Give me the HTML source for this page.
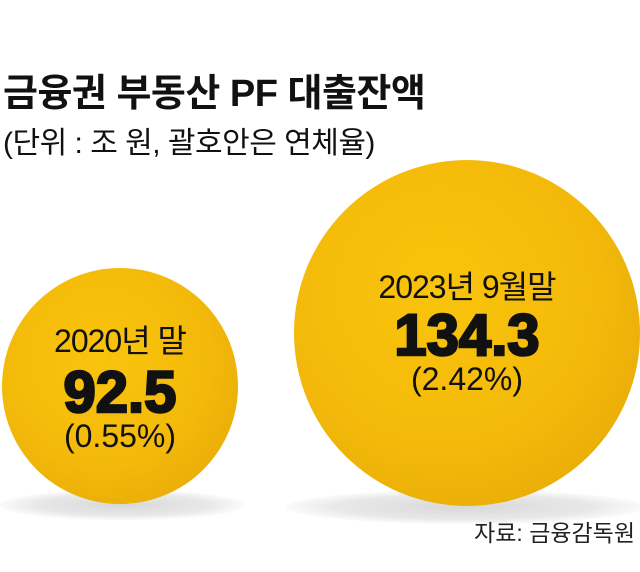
<!DOCTYPE html>
<html><head><meta charset="utf-8"><style>
body{margin:0;width:640px;height:572px;background:#fff;position:relative;overflow:hidden;font-family:"Liberation Sans","Noto Sans CJK KR",sans-serif;color:#111}
.t{position:absolute;white-space:nowrap}
.ball{position:absolute;border-radius:50%;background:radial-gradient(circle at 42% 38%,#f9c40c 0%,#f4ba0a 50%,#eaae08 78%,#d69a06 100%)}
.sh{position:absolute;border-radius:50%;background:radial-gradient(ellipse at center,#d8d8d8 0%,#e8e8e8 50%,rgba(255,255,255,0) 75%)}
.c{position:absolute;text-align:center;line-height:1;white-space:nowrap}
</style></head><body>
<div class="t" style="left:3px;top:62px;font-size:38px;font-weight:bold;letter-spacing:-0.5px">금융권 부동산 PF 대출잔액</div>
<div class="t" style="left:3px;top:118px;font-size:30px;letter-spacing:-0.5px">(단위 : 조 원, 괄호안은 연체율)</div>
<div class="sh" style="left:0;top:490px;width:245px;height:30px"></div>
<div class="sh" style="left:285px;top:490px;width:360px;height:34px"></div>
<div class="ball" style="left:2px;top:268px;width:236px;height:236px"></div>
<div class="ball" style="left:294px;top:160px;width:346px;height:346px"></div>
<div class="c" style="left:2px;width:236px;top:325px;font-size:32px;letter-spacing:-1px">2020년 말</div>
<div class="c" style="left:2px;width:236px;top:364px;font-size:58px;font-weight:900;-webkit-text-stroke:2.5px #111;letter-spacing:0px">92.5</div>
<div class="c" style="left:2px;width:236px;top:420px;font-size:32px">(0.55%)</div>
<div class="c" style="left:294px;width:346px;top:271px;font-size:32px;letter-spacing:-1px">2023년 9월말</div>
<div class="c" style="left:294px;width:346px;top:307px;font-size:58px;font-weight:900;-webkit-text-stroke:2.5px #111;letter-spacing:0px">134.3</div>
<div class="c" style="left:294px;width:346px;top:363px;font-size:32px">(2.42%)</div>
<div class="t" style="right:5px;top:514px;font-size:23px;color:#222">자료: 금융감독원</div>
</body></html>
